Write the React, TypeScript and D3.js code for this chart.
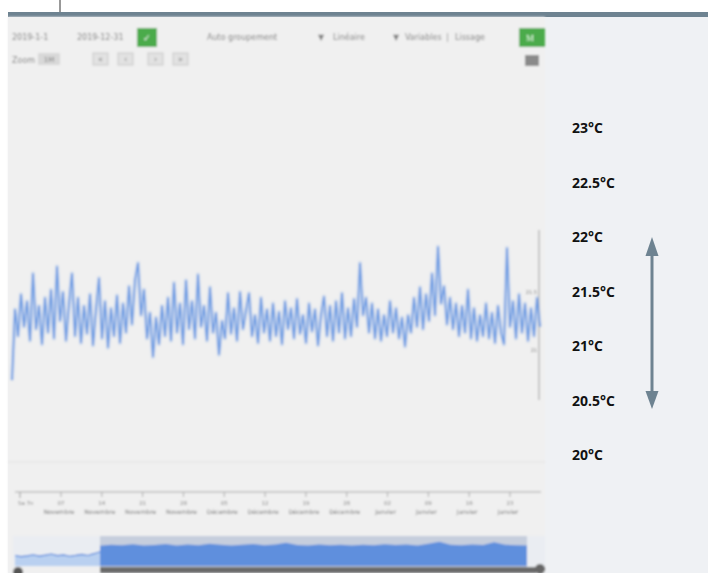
import * as d3 from 'd3';
import React from 'react';

// temperature readings shown in the main chart (°C)
const temps = [
  20.74, 21.35, 21.12, 21.48, 21.2, 21.42, 21.08, 21.66, 21.18, 21.38, 21.05, 21.45, 21.15, 21.52, 21.1,
  21.72, 21.25, 21.5, 21.08, 21.4, 21.66, 21.12, 21.45, 21.06, 21.38, 21.14, 21.48, 21.04, 21.35, 21.62,
  21.1, 21.42, 21.02, 21.36, 21.12, 21.47, 21.06, 21.4, 21.15, 21.55, 21.22, 21.6, 21.75, 21.3, 21.52,
  21.1, 21.32, 20.94, 21.28, 21.05, 21.38, 21.12, 21.45, 21.08, 21.58, 21.15, 21.4, 21.05, 21.6, 21.18,
  21.42, 21.1, 21.65, 21.2, 21.38, 21.08, 21.54, 21.15, 21.32, 20.96, 21.25, 21.1, 21.49, 21.14, 21.36,
  21.08, 21.5, 21.18, 21.34, 21.49, 21.12, 21.3, 21.06, 21.45, 21.15, 21.35, 21.08, 21.4, 21.12, 21.33,
  21.05, 21.42, 21.18, 21.36, 21.1, 21.44, 21.14, 21.3, 21.06, 21.4, 21.16, 21.35, 21.04, 21.3, 21.46,
  21.12, 21.38, 21.08, 21.42, 21.15, 21.49, 21.1, 21.36, 21.12, 21.44, 21.2, 21.75, 21.3, 21.45, 21.15,
  21.4, 21.1, 21.35, 21.08, 21.3, 21.12, 21.42, 21.15, 21.36, 21.1, 21.28, 21.03, 21.3, 21.15, 21.45,
  21.2, 21.54, 21.18, 21.48, 21.25, 21.66, 21.3, 21.89, 21.4, 21.55, 21.22, 21.45, 21.18, 21.4, 21.12,
  21.38, 21.15, 21.52, 21.1, 21.36, 21.08, 21.3, 21.12, 21.4, 21.1, 21.32, 21.06, 21.38, 21.15, 21.05,
  21.88, 21.2, 21.42, 21.1, 21.48, 21.15, 21.4, 21.08, 21.36, 21.12, 21.45, 21.2,
];

// navigator: period before the selection, then the selected period
const navBefore = [20.7, 20.62, 20.68, 20.75, 20.66, 20.72, 20.8, 20.69, 20.74, 20.65, 20.71, 20.78, 20.7, 20.82, 20.95];
const navSelected = [
  21.35, 21.42, 21.38, 21.45, 21.36, 21.4, 21.47, 21.37, 21.44, 21.39, 21.48, 21.42, 21.36, 21.41, 21.46,
  21.38, 21.43, 21.55, 21.4, 21.37, 21.44, 21.39, 21.42, 21.36, 21.41, 21.38, 21.45, 21.4, 21.43, 21.37,
  21.48, 21.62, 21.41, 21.38, 21.44, 21.4, 21.58, 21.42, 21.39, 21.36,
];

const dayLabels = ['07', '14', '21', '28', '05', '12', '19', '26', '02', '09', '16', '23'];
const monthLabels = ['Novembre', 'Novembre', 'Novembre', 'Novembre', 'Décembre', 'Décembre', 'Décembre', 'Décembre', 'Janvier', 'Janvier', 'Janvier', 'Janvier'];
const chartTicks = [21, 21.5];
const scaleLabels = [23, 22.5, 22, 21.5, 21, 20.5, 20];

export default function App() {
  const W = 708, H = 573;

  const x = d3.scaleLinear().domain([0, temps.length - 1]).range([12, 540]);
  const y = d3.scaleLinear().domain([21, 21.5]).range([350, 292]);
  const line = d3.line<number>().x((_, i) => x(i)).y(d => y(d));

  const xLab = d3.scalePoint<string>().domain(dayLabels.map((_, i) => String(i))).range([61, 510]);

  const ny = d3.scaleLinear().domain([20, 22]).range([566, 536]);
  const nxBefore = d3.scaleLinear().domain([0, navBefore.length - 1]).range([15, 100]);
  const nxSel = d3.scaleLinear().domain([0, navSelected.length - 1]).range([100, 527]);
  const areaBefore = d3.area<number>().x((_, i) => nxBefore(i)).y0(566).y1(d => ny(d));
  const lineBefore = d3.line<number>().x((_, i) => nxBefore(i)).y(d => ny(d));
  const areaSel = d3.area<number>().x((_, i) => nxSel(i)).y0(566).y1(d => ny(d));

  const tScale = d3.scaleLinear().domain([20, 23]).range([455, 128]);

  const small = { fontFamily: 'DejaVu Sans, sans-serif', fill: '#7e7e7e' } as const;

  return (
    <div style={{ position: 'absolute', left: 0, top: 0 }}>
      <svg width={W} height={H} viewBox={`0 0 ${W} ${H}`} style={{ display: 'block' }}>
        <defs>
          <filter id="soft" x="-5%" y="-5%" width="110%" height="110%">
            <feGaussianBlur stdDeviation="0.9" />
          </filter>
        </defs>
        <rect width={W} height={H} fill="#ffffff" />
        <rect x={8} y={17} width={W - 8} height={H - 17} fill="#eff1f4" />
        <line x1={60} x2={60} y1={0} y2={13} stroke="#333" strokeWidth={1} />
        <rect x={8} y={12} width={W - 8} height={5} fill="#6e8391" />

        <g filter="url(#soft)">
          <rect x={8} y={17} width={537} height={H - 17} fill="#f0f0f0" />

          {/* toolbar */}
          <text x={12} y={40} fontSize={8} {...small}>2019-1-1</text>
          <text x={77} y={40} fontSize={8} {...small}>2019-12-31</text>
          <rect x={137} y={28} width={20} height={19} fill="#4cab4c" />
          <text x={147} y={41} fontSize={9} fill="#fff" textAnchor="middle">✓</text>
          <text x={207} y={40} fontSize={8} {...small}>Auto groupement</text>
          <text x={318} y={40} fontSize={8} {...small}>▼</text>
          <text x={333} y={40} fontSize={8} {...small}>Linéaire</text>
          <text x={393} y={40} fontSize={8} {...small}>▼</text>
          <text x={405} y={40} fontSize={8} {...small}>Variables</text>
          <text x={446} y={40} fontSize={8} {...small}>|</text>
          <text x={455} y={40} fontSize={8} {...small}>Lissage</text>
          <rect x={519} y={28} width={26} height={19} fill="#4cab4c" />
          <text x={530} y={41} fontSize={9} fill="#e8ffe8" textAnchor="middle">M</text>

          <text x={12} y={63} fontSize={8} {...small}>Zoom</text>
          <rect x={38} y={53} width={22} height={12} fill="#d8d8d8" />
          <text x={49} y={62} fontSize={7} {...small} textAnchor="middle">1M</text>
          {['«', '‹', '›', '»'].map((s, i) => (
            <g key={s}>
              <rect x={[93, 118, 148, 173][i]} y={53} width={15} height={12} fill="#e2e2e2" stroke="#c8c8c8" />
              <text x={[93, 118, 148, 173][i] + 7.5} y={62} fontSize={8} {...small} textAnchor="middle">{s}</text>
            </g>
          ))}
          <rect x={525} y={55} width={14} height={11} fill="#8a8a8a" />

          {/* main chart */}
          <line x1={539} x2={539} y1={230} y2={400} stroke="#9a9a9a" strokeWidth={1} />
          {chartTicks.map(t => (
            <text key={t} x={537} y={y(t) + 2} fontSize={5} {...small} textAnchor="end">{t}</text>
          ))}
          <path d={line(temps) || ''} fill="none" stroke="#7aa6e8" strokeWidth={4} strokeOpacity={0.3} strokeLinejoin="round" />
          <path d={line(temps) || ''} fill="none" stroke="#5a8fe0" strokeWidth={1.5} strokeOpacity={0.9} />

          <line x1={8} x2={545} y1={462} y2={462} stroke="#e0e0e0" />

          {/* x axis */}
          <line x1={15} x2={541} y1={492} y2={492} stroke="#a5a5a5" />
          <line x1={20} x2={20} y1={492} y2={498} stroke="#999" />
          <text x={18} y={505} fontSize={5.5} {...small}>Sa 7n</text>
          {dayLabels.map((d, i) => (
            <g key={i}>
              <line x1={xLab(String(i))} x2={xLab(String(i))} y1={492} y2={497} stroke="#aaa" />
              <text x={xLab(String(i))} y={505} fontSize={5.5} {...small} textAnchor="middle">{d}</text>
              <text x={xLab(String(i)) - 2} y={514} fontSize={6} {...small} fill="#707070" textAnchor="middle">{monthLabels[i]}</text>
            </g>
          ))}

          {/* navigator */}
          <rect x={13} y={536} width={532} height={31} fill="#eaedf2" />
          <rect x={100} y={536} width={427} height={31} fill="#c6cedd" />
          <path d={areaBefore(navBefore) || ''} fill="#b9d0f0" />
          <path d={lineBefore(navBefore) || ''} fill="none" stroke="#4b82db" strokeWidth={1.2} />
          <path d={areaSel(navSelected) || ''} fill="#5e8fdd" />
          <rect x={100} y={567} width={436} height={6} fill="#6a6a6a" />
          <circle cx={18} cy={572} r={5} fill="#555" />
          <circle cx={540} cy={569} r={5} fill="#666" />
        </g>

        {/* temperature scale on the right */}
        {scaleLabels.map(t => (
          <text key={t} x={572} y={tScale(t) + 5} fontSize={14} fontWeight={700}
            fontFamily="'Open Sans', sans-serif" fill="#111">{`${t}°C`}</text>
        ))}
        <line x1={652} x2={652} y1={252} y2={394} stroke="#6e8391" strokeWidth={3} />
        <polygon points="652,237 645.5,256 658.5,256" fill="#6e8391" />
        <polygon points="652,409 645.5,391 658.5,391" fill="#6e8391" />
      </svg>
    </div>
  );
}
